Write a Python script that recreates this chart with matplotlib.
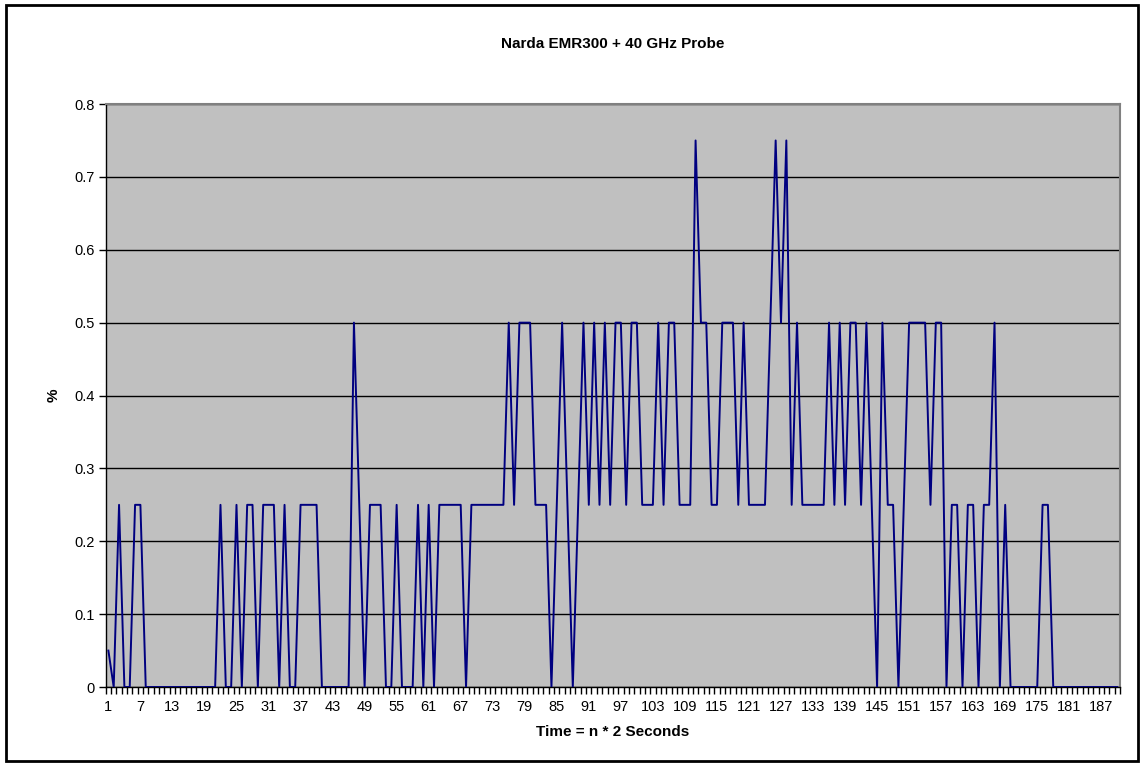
import numpy as np
import matplotlib
matplotlib.use("Agg")
import matplotlib.pyplot as plt
from matplotlib.patches import Rectangle

plt.rcParams['font.family'] = ['Liberation Sans', 'DejaVu Sans']

# Readings (%), one every 2 seconds
values = [
    0.05, 0, 0.25, 0, 0, 0.25, 0.25,
    0, 0, 0, 0, 0, 0, 0, 0, 0, 0, 0, 0, 0, 0,
    0.25, 0, 0, 0.25, 0, 0.25, 0.25, 0, 0.25, 0.25, 0.25, 0, 0.25, 0, 0,
    0.25, 0.25, 0.25, 0.25,
    0, 0, 0, 0, 0, 0,
    0.5, 0.25, 0, 0.25, 0.25, 0.25, 0, 0, 0.25, 0, 0, 0, 0.25, 0, 0.25, 0,
    0.25, 0.25, 0.25, 0.25, 0.25, 0,
    0.25, 0.25, 0.25, 0.25, 0.25, 0.25, 0.25,
    0.5, 0.25, 0.5, 0.5, 0.5, 0.25, 0.25, 0.25, 0, 0.25, 0.5, 0.25, 0, 0.25,
    0.5, 0.25, 0.5, 0.25, 0.5, 0.25, 0.5, 0.5, 0.25, 0.5, 0.5,
    0.25, 0.25, 0.25, 0.5, 0.25, 0.5, 0.5, 0.25, 0.25, 0.25,
    0.75, 0.5, 0.5, 0.25, 0.25, 0.5, 0.5, 0.5, 0.25, 0.5,
    0.25, 0.25, 0.25, 0.25, 0.5, 0.75, 0.5, 0.75, 0.25, 0.5,
    0.25, 0.25, 0.25, 0.25, 0.25,
    0.5, 0.25, 0.5, 0.25, 0.5, 0.5, 0.25, 0.5, 0.25, 0, 0.5, 0.25, 0.25, 0,
    0.25, 0.5, 0.5, 0.5, 0.5, 0.25, 0.5, 0.5, 0,
    0.25, 0.25, 0, 0.25, 0.25, 0, 0.25, 0.25, 0.5, 0, 0.25,
    0, 0, 0, 0, 0, 0, 0.25, 0.25,
    0, 0, 0, 0, 0, 0, 0, 0, 0, 0, 0, 0, 0,
]
n = np.arange(1, len(values) + 1)
label_ticks = list(range(1, len(values) + 1, 6))

fig = plt.figure(figsize=(11.44, 7.66), dpi=100)
fig.patches.append(Rectangle((0.005, 0.007), 0.99, 0.986, transform=fig.transFigure,
                             fill=False, edgecolor='black', linewidth=2))

ax = fig.add_axes([0.0924, 0.1031, 0.8866, 0.7611])
ax.set_facecolor('#C0C0C0')
ax.plot(n, values, color='#000080', linewidth=1.4, zorder=3)

ax.set_xlim(0.5, len(values) + 0.5)
ax.set_ylim(0, 0.8)
ax.set_yticks(np.arange(0, 0.81, 0.1))
ax.set_yticklabels(['0', '0.1', '0.2', '0.3', '0.4', '0.5', '0.6', '0.7', '0.8'])
ax.yaxis.grid(True, color='black', linewidth=1)
ax.set_axisbelow(True)

ax.set_xticks(label_ticks)
ax.set_xticklabels([str(t) for t in label_ticks])
ax.set_xticks(np.arange(0.5, len(values) + 1, 1), minor=True)
ax.tick_params(axis='x', which='major', length=0, pad=9, labelsize=10.5)
ax.tick_params(axis='x', which='minor', length=5, width=1, direction='out')
ax.tick_params(axis='y', length=5, width=1, direction='out', labelsize=10.5, pad=3)

for side in ['left', 'bottom']:
    ax.spines[side].set_color('black')
    ax.spines[side].set_linewidth(1)
for side in ['top', 'right']:
    ax.spines[side].set_color('#808080')
    ax.spines[side].set_linewidth(1.5)

ax.set_title('Narda EMR300 + 40 GHz Probe', fontsize=11, fontweight='bold', pad=40)
ax.set_xlabel('Time = n * 2 Seconds', fontsize=11, fontweight='bold', labelpad=8)
ax.set_ylabel('%', fontsize=11, fontweight='bold', labelpad=10)

fig.savefig('out.png', dpi=100)
